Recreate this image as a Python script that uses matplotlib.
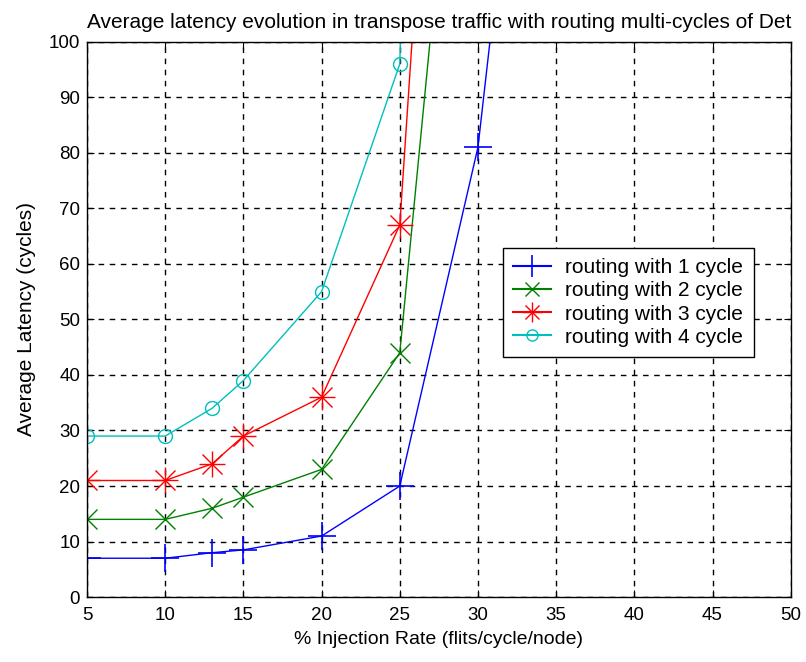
import matplotlib
matplotlib.use("Agg")
import matplotlib.pyplot as plt
from matplotlib.lines import Line2D

# Data (injection rate % vs average latency in cycles)
rate = [5, 10, 13, 15, 20, 25, 30, 35]
lat_1cycle = [7, 7, 8, 8.5, 11, 20, 81, 205]
rate_multi = [5, 10, 13, 15, 20, 25, 30]
lat_2cycle = [14, 14, 16, 18, 23, 44, 189]
lat_3cycle = [21, 21, 24, 29, 36, 67, 278]
lat_4cycle = [29, 29, 34, 39, 55, 96, 600]

labels = ["routing with 1 cycle", "routing with 2 cycle",
          "routing with 3 cycle", "routing with 4 cycle"]
xticks = list(range(5, 55, 5))
yticks = list(range(0, 110, 10))

BLUE, GREEN, RED, CYAN = '#0000ff', '#008000', '#ff0000', '#00bfbf'

plt.rcParams['font.family'] = ['Liberation Sans', 'DejaVu Sans']

fig = plt.figure(figsize=(8.06, 6.62), dpi=100)
ax = fig.add_axes([0.108, 0.098, 0.873, 0.839])

lw = 1.0
ax.plot(rate, lat_1cycle, color=BLUE, marker='+', markersize=20,
        markeredgewidth=1.2, linewidth=lw)
ax.plot(rate_multi, lat_2cycle, color=GREEN, marker='x', markersize=14,
        markeredgewidth=1.0, linewidth=lw)
# MATLAB style asterisk = plus + cross
ax.plot(rate_multi, lat_3cycle, color=RED, linewidth=lw, marker='+',
        markersize=19, markeredgewidth=1.0)
ax.plot(rate_multi, lat_3cycle, color=RED, linestyle='none', marker='x',
        markersize=14, markeredgewidth=1.0)
ax.plot(rate_multi, lat_4cycle, color=CYAN, marker='o', markersize=10,
        markerfacecolor='none', markeredgewidth=1.0, linewidth=lw)

ax.set_xlim(5, 50)
ax.set_ylim(0, 100)
ax.set_xticks(xticks)
ax.set_yticks(yticks)
ax.tick_params(axis='x', direction='in', length=5, labelsize=13.5, top=True, pad=7)
ax.tick_params(axis='y', direction='in', length=5, labelsize=13.5, right=True, pad=5)
ax.grid(True, color='black', linestyle=(0, (4, 4)), linewidth=1.0)
for s in ax.spines.values():
    s.set_linewidth(1.0)

ax.set_xlabel("% Injection Rate (flits/cycle/node)", fontsize=14, labelpad=5)
ax.set_ylabel("Average Latency (cycles)", fontsize=15, labelpad=9)
ax.set_title("Average latency evolution in transpose traffic with routing multi-cycles of Det",
             fontsize=15, pad=10)

# legend with combined asterisk for the 3-cycle entry
handles = [
    Line2D([], [], color=BLUE, marker='+', markersize=16, markeredgewidth=1.2),
    Line2D([], [], color=GREEN, marker='x', markersize=10),
    (Line2D([], [], color=RED, marker='+', markersize=14),
     Line2D([], [], color=RED, marker='x', markersize=10, linestyle='none')),
    Line2D([], [], color=CYAN, marker='o', markersize=8, markerfacecolor='none'),
]
leg = ax.legend(handles, labels, loc='upper left', bbox_to_anchor=(0.591, 0.629),
                borderaxespad=0, fontsize=15, frameon=True, fancybox=False,
                edgecolor='black', handlelength=1.8, handletextpad=0.7,
                borderpad=0.5, labelspacing=0.2)
leg.get_frame().set_linewidth(1.0)
leg.get_frame().set_alpha(1)

fig.savefig("out.png", dpi=100)
